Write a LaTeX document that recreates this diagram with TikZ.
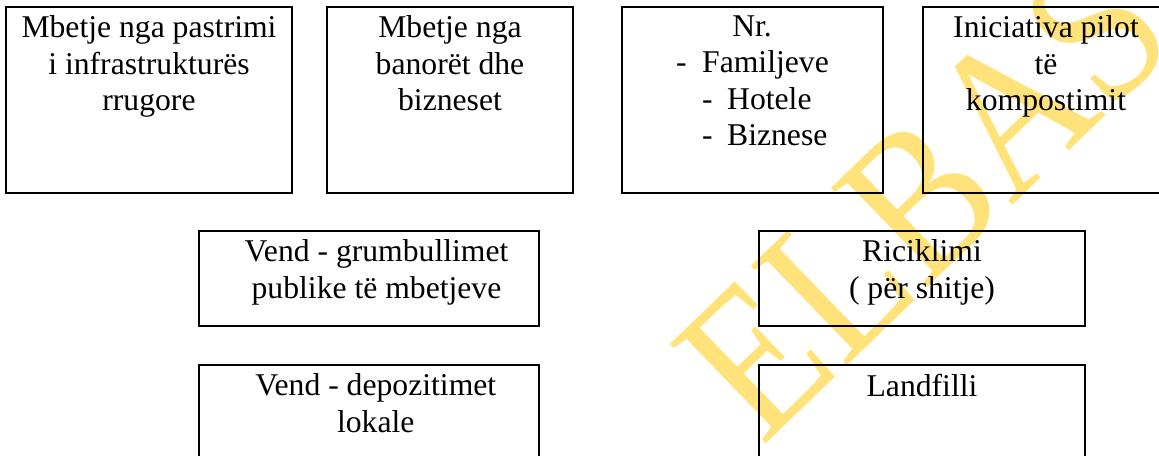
\documentclass[tikz,border=0pt]{standalone}
\usepackage{fontspec}
\setmainfont{Liberation Serif}
\usetikzlibrary{positioning}
\definecolor{wmyellow}{RGB}{255,226,122}
\tikzset{
	wastebox/.style={draw, line width=0.75pt, inner sep=0pt, minimum height=2.48cm},
	boxtext/.style={inner sep=0pt, align=center, font=\fontsize{12}{13.8}\selectfont},
	listtext/.style={inner sep=0pt, align=left, font=\fontsize{12}{13.8}\selectfont},
	watermark/.style={text=wmyellow, inner sep=0pt, anchor=base west, rotate=44, xscale=0.87, font=\fontsize{80}{80}\selectfont}
}
\begin{document}
\begin{tikzpicture}[x=0.01332cm, y=-0.01332cm]
		\path[use as bounding box] (0,0) rectangle (1159,455);
		\clip (0,0) rectangle (1159,455);
		
		\node[watermark] (wm) at (762,448) {ELBAS};
		
		% top row
		\node[wastebox, minimum width=3.81cm] (road) at (149,100) {};
		\node[wastebox, minimum width=3.277cm] (resid) at (450,100) {};
		\node[wastebox, minimum width=3.477cm] (nr) at (752.5,100) {};
		\node[wastebox, minimum width=3.277cm] (pilot) at (1046,100) {};
		
		\node[boxtext, below=3.5pt of road.north] (road-t) {Mbetje nga pastrimi\\ i infrastrukturës\\ rrugore};
		\node[boxtext, below=3.5pt of resid.north] (resid-t) {Mbetje nga\\ banorët dhe\\ bizneset};
		\node[listtext, below=3.5pt of nr.north] (nr-t) {\hspace*{1.77em}Nr.\\ \makebox[0.82em][l]{-}Familjeve\\ \hspace*{0.82em}\makebox[0.79em][l]{-}Hotele\\ \hspace*{0.82em}\makebox[0.79em][l]{-}Biznese};
		\node[boxtext, below=3.5pt of pilot.north] (pilot-t) {Iniciativa pilot\\ të\\ kompostimit};
		
		% lower rows
		\node[wastebox, minimum width=4.529cm, minimum height=1.265cm] (collect) at (369,278.5) {};
		\node[wastebox, minimum width=4.342cm, minimum height=1.265cm] (recycle) at (922,278.5) {};
		\node[wastebox, minimum width=4.529cm, minimum height=1.265cm] (depot) at (369,412.5) {};
		\node[wastebox, minimum width=4.342cm, minimum height=1.265cm] (landfill) at (922,412.5) {};
		
		\node[boxtext, below=3.5pt of collect.north, xshift=0.1cm] (collect-t) {Vend - grumbullimet\\ publike të mbetjeve};
		\node[boxtext, below=3.5pt of recycle.north] (recycle-t) {Riciklimi\\ ( për shitje)};
		\node[boxtext, below=3.5pt of depot.north, xshift=0.09cm] (depot-t) {Vend - depozitimet\\ lokale};
		\node[boxtext, below=3.5pt of landfill.north] (landfill-t) {Landfilli};
	\end{tikzpicture}
\end{document}
